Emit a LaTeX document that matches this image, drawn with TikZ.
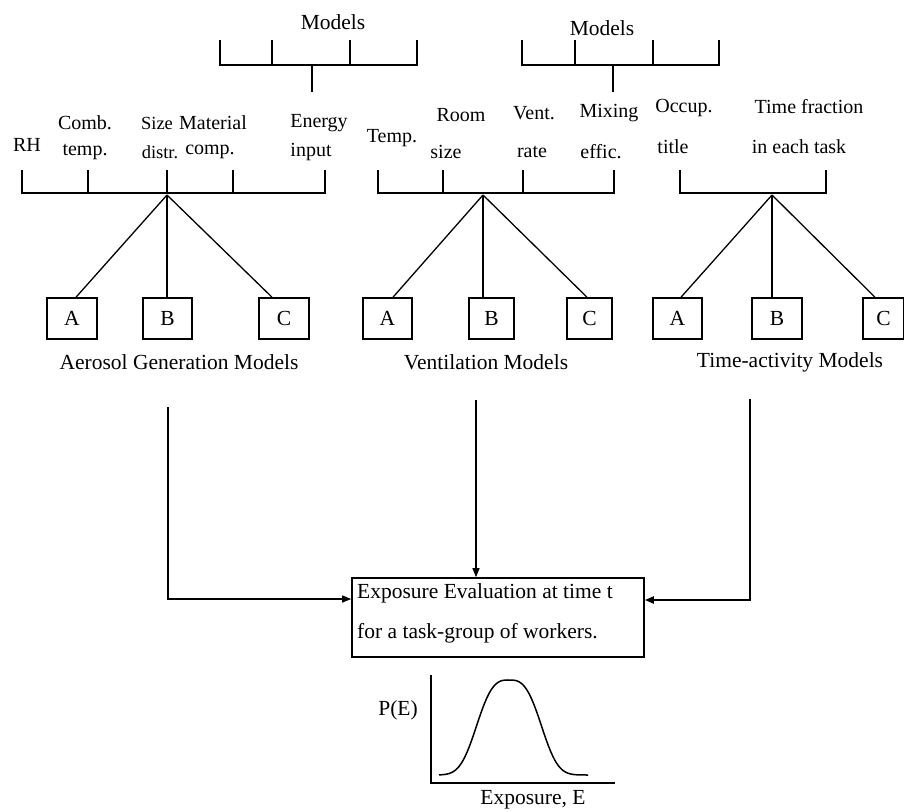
\documentclass[tikz,border=0pt]{standalone}
\usepackage{fontspec}
\setmainfont{Liberation Serif}
\usetikzlibrary{arrows.meta}
\begin{document}
\begin{tikzpicture}[x=1pt,y=-1pt,
  ln/.style={line width=1.3pt},
  thk/.style={line width=2pt},
  lab/.style={font=\fontsize{20}{23}\selectfont, inner sep=0pt},
  captxt/.style={font=\fontsize{21.5}{25}\selectfont, inner sep=0pt},
  mbox/.style={draw, line width=1.6pt, minimum height=41pt, inner sep=0pt, font=\fontsize{21.5}{25}\selectfont},
  arr/.style={ln, -{Triangle[length=9pt,width=7pt]}}
]
\useasboundingbox[fill=white] (0,0) rectangle (904,811);

% ---------- top "Models" brackets ----------
\node[captxt] (m1) at (333,22) {Models};
\draw[thk] (220,40) |- (417,65) -- (417,40);
\draw[thk] (272,40) -- (272,65) (350,40) -- (350,65) (312,65) -- (312,92);
\node[captxt] (m2) at (602,28) {Models};
\draw[ln] (522,40) |- (719,65) -- (719,40);
\draw[ln] (575,40) -- (575,65);
\draw[thk] (653,40) -- (653,65) (613,65) -- (613,92);

% ---------- parameter labels ----------
\node[lab] (rh) at (27,145) {RH};
\node[lab] (comb) at (85,123) {Comb.};
\node[lab] (combt) at (85,152) {temp.};
\node[lab, font=\fontsize{18.5}{22}\selectfont] (size) at (157,123) {Size};
\node[lab, font=\fontsize{18.5}{22}\selectfont] (sized) at (160,152) {distr.};
\node[lab] (mat) at (213,123) {Material};
\node[lab] (matc) at (210,152) {comp.};
\node[lab] (en) at (319,123) {Energy};
\node[lab] (eni) at (311,152) {input};

\node[lab] (temp) at (392,138) {Temp.};
\node[lab] (room) at (461,115) {Room};
\node[lab] (rooms) at (446,152) {size};
\node[lab] (vent) at (534,113) {Vent.};
\node[lab] (ventr) at (532,152) {rate};
\node[lab] (mix) at (609,113) {Mixing};
\node[lab] (mixe) at (601,152) {effic.};

\node[lab] (occ) at (684,108) {Occup.};
\node[lab] (occt) at (673,147) {title};
\node[lab] (tf) at (809,107) {Time fraction};
\node[lab] (tfi) at (799,147) {in each task};

% ---------- parameter brackets ----------
\draw[ln] (22,170) |- (325,193) -- (325,170);
\draw[ln] (88,170) -- (88,193) (167,170) -- (167,193) (233,170) -- (233,193);
\draw[ln] (378,170) |- (614,193) -- (614,170);
\draw[ln] (443,170) -- (443,193) (523,170) -- (523,193);
\draw[thk] (680,170) |- (826,193) -- (826,170);

\coordinate (h1) at (167,195);
\coordinate (h2) at (483,195);
\coordinate (h3) at (772,195);

% ---------- model boxes ----------
\node[mbox, minimum width=50pt] (a1) at (72,318.5) {A};
\node[mbox, minimum width=49pt] (b1) at (167.5,318.5) {B};
\node[mbox, minimum width=50pt] (c1) at (284,318.5) {C};
\node[mbox, minimum width=49pt] (a2) at (387.5,318.5) {A};
\node[mbox, minimum width=45pt] (b2) at (491.5,318.5) {B};
\node[mbox, minimum width=45pt] (c2) at (589.5,318.5) {C};
\node[mbox, minimum width=49pt] (a3) at (677.5,318.5) {A};
\node[mbox, minimum width=50pt] (b3) at (777,318.5) {B};
\node[mbox, minimum width=41pt] (c3) at (883.5,318.5) {C};

\draw[ln] (h1) -- ([xshift=4pt]a1.north);
\draw[ln] (h1) -- ([xshift=-0.5pt]b1.north);
\draw[ln] (h1) -- ([xshift=-12pt]c1.north);
\draw[ln] (h2) -- ([xshift=5.5pt]a2.north);
\draw[thk] (h2) -- ([xshift=-8.5pt]b2.north);
\draw[ln] (h2) -- ([xshift=-2.5pt]c2.north);
\draw[ln] (h3) -- ([xshift=3.5pt]a3.north);
\draw[ln] (h3) -- ([xshift=-5pt]b3.north);
\draw[ln] (h3) -- ([xshift=-8.5pt]c3.north);

\node[captxt] (g1) at (179,362) {Aerosol Generation Models};
\node[captxt] (g2) at (486,362) {Ventilation Models};
\node[captxt] (g3) at (790,362) {Time-activity Models};

% ---------- exposure evaluation ----------
\node[draw, line width=1.6pt, minimum width=292pt, minimum height=79pt, inner sep=0pt] (ex) at (498,617.5) {};
\node[captxt, anchor=west, align=left] (ext) at (357,613) {Exposure Evaluation at time t\\[15pt]for a task-group of workers.};

\coordinate (s1) at (168,407);
\coordinate (s2) at (476,400);
\coordinate (s3) at (750,399);
\draw[arr] (s1) |- ([yshift=18.5pt]ex.west);
\draw[arr] (s2) -- (s2 |- ex.north);
\draw[arr, line width=2pt] (s3) |- ([yshift=17.5pt]ex.east);

% ---------- distribution plot ----------
\draw[ln] (431,675) -- (431,783) -- (615,783);
\draw[line width=1.5pt] plot[domain=439:588, samples=90, smooth] (\x, {775-95*exp(-0.693*pow(abs(\x-509)/33,3))});
\node[captxt] (pe) at (398,710) {P(E)};
\node[captxt] (xe) at (533,800) {Exposure, E};
\end{tikzpicture}
\end{document}
